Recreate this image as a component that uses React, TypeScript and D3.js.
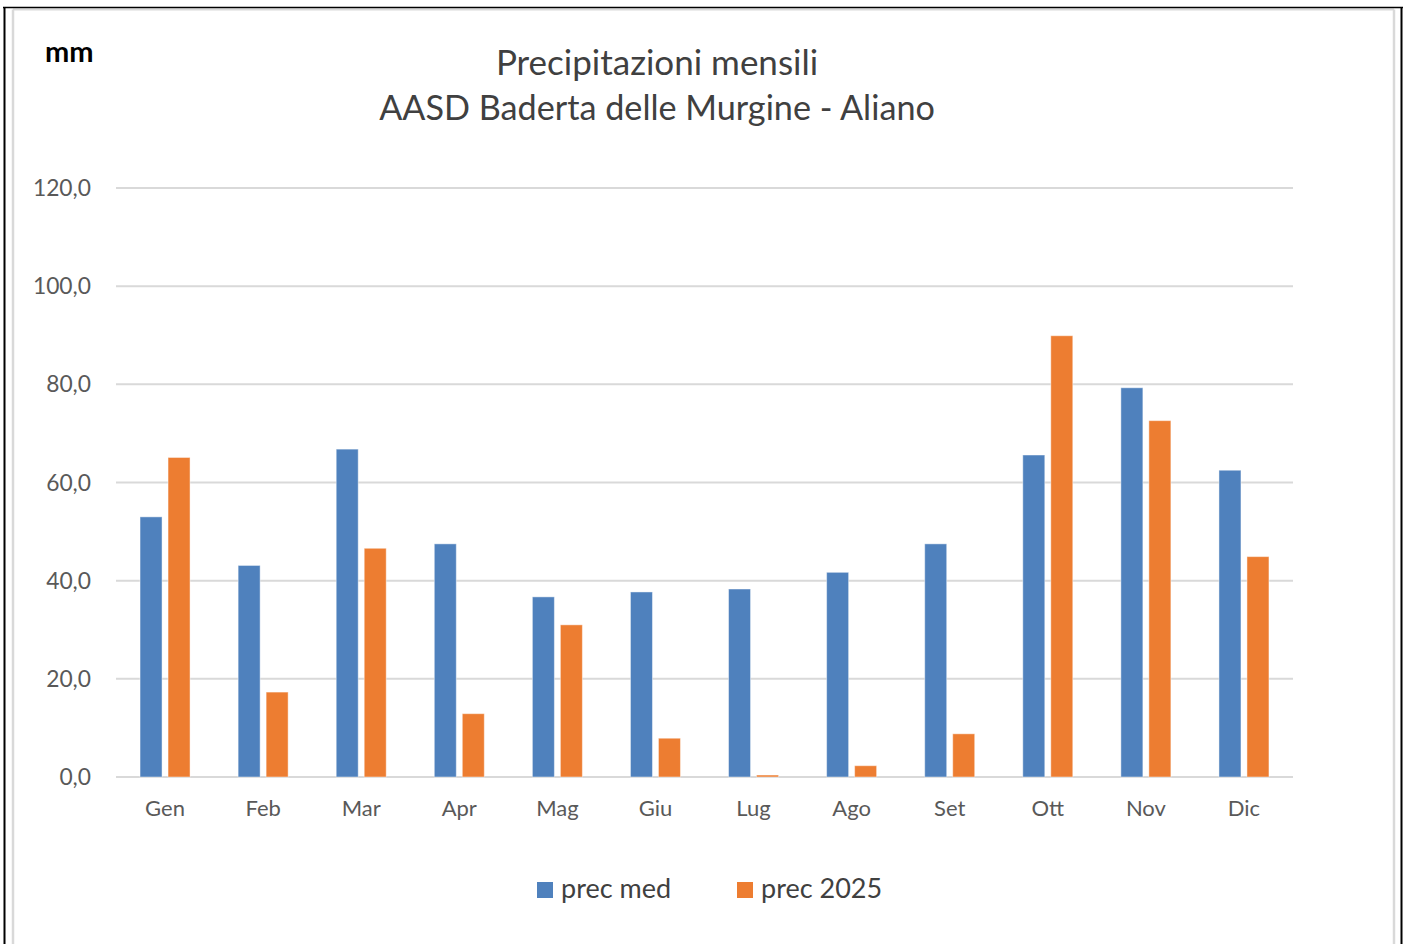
import React from "react";
import * as d3 from "d3";

const months = ["Gen", "Feb", "Mar", "Apr", "Mag", "Giu", "Lug", "Ago", "Set", "Ott", "Nov", "Dic"];
const precMed = [53.0, 43.1, 66.8, 47.5, 36.7, 37.7, 38.3, 41.7, 47.5, 65.6, 79.3, 62.5];
const prec2025 = [65.1, 17.3, 46.6, 12.9, 31.0, 7.9, 0.4, 2.3, 8.8, 89.9, 72.6, 44.9];
const yTicks = [0, 20, 40, 60, 80, 100, 120];
const seriesNames = ["prec med", "prec 2025"];
const colors = ["#4F81BD", "#ED7D31"];
const titleLines = ["Precipitazioni mensili", "AASD Baderta delle Murgine - Aliano"];

const W = 1403;
const H = 944;
const FONT = "Lato, 'Open Sans', sans-serif";

export default function App() {
  const x = d3.scaleBand<string>().domain(months).range([116, 1293]).padding(0);
  const y = d3.scaleLinear().domain([0, 120]).range([777, 188]);
  const fmt = (v: number) => v.toFixed(1).replace(".", ",");
  const barW = 22;
  const series = [precMed, prec2025];
  const offsets = [-25, 3];

  return (
    <svg
      width={W}
      height={H}
      style={{ position: "absolute", left: 0, top: 0, background: "#fff" }}
    >
      {/* frame */}
      <line x1={13} y1={9.5} x2={1394} y2={9.5} stroke="#d9d9d9" strokeWidth={2} />
      <line x1={13} y1={9.5} x2={13} y2={H} stroke="#d9d9d9" strokeWidth={2.5} />
      <line x1={1394} y1={9.5} x2={1394} y2={H} stroke="#d9d9d9" strokeWidth={2.5} />
      <line x1={3} y1={7.5} x2={1403} y2={7.5} stroke="#000" strokeWidth={1.5} />
      <line x1={4.5} y1={7} x2={4.5} y2={H} stroke="#000" strokeWidth={2} />
      <line x1={1401.5} y1={7} x2={1401.5} y2={H} stroke="#000" strokeWidth={2} />

      {/* mm label */}
      <text x={45} y={62} fontFamily={FONT} fontWeight="bold" fontSize={29} fill="#000">
        mm
      </text>

      {/* title */}
      {titleLines.map((t, i) => (
        <text
          key={t}
          x={657}
          y={75 + i * 45}
          textAnchor="middle"
          fontFamily={FONT}
          fontSize={i === 0 ? 35 : 34.2}
          fill="#404040"
        >
          {t}
        </text>
      ))}

      {/* gridlines & y ticks */}
      {yTicks.map((t) => (
        <g key={t}>
          <line x1={116} x2={1293} y1={y(t)} y2={y(t)} stroke="#d9d9d9" strokeWidth={2} />
          <text
            x={91}
            y={y(t) + 8}
            textAnchor="end"
            fontFamily={FONT}
            fontSize={22.8}
            fill="#595959"
          >
            {fmt(t)}
          </text>
        </g>
      ))}

      {/* bars */}
      {series.map((vals, si) =>
        vals.map((v, i) => {
          const c = (x(months[i]) as number) + x.bandwidth() / 2;
          return (
            <rect
              key={`${si}-${i}`}
              x={c + offsets[si]}
              y={y(v)}
              width={barW}
              height={y(0) - y(v)}
              fill={colors[si]}
              stroke="#ffffff"
              strokeOpacity={0.45}
              strokeWidth={1}
            />
          );
        })
      )}

      {/* x labels */}
      {months.map((m) => (
        <text
          key={m}
          x={(x(m) as number) + x.bandwidth() / 2}
          y={816}
          textAnchor="middle"
          fontFamily={FONT}
          fontSize={22}
          fill="#595959"
        >
          {m}
        </text>
      ))}

      {/* legend */}
      {seriesNames.map((n, i) => (
        <g key={n} transform={`translate(${537 + i * 200},0)`}>
          <rect x={0} y={882} width={16} height={16} fill={colors[i]} />
          <text x={24} y={898} fontFamily={FONT} fontSize={27} fill="#404040">
            {n}
          </text>
        </g>
      ))}
    </svg>
  );
}
